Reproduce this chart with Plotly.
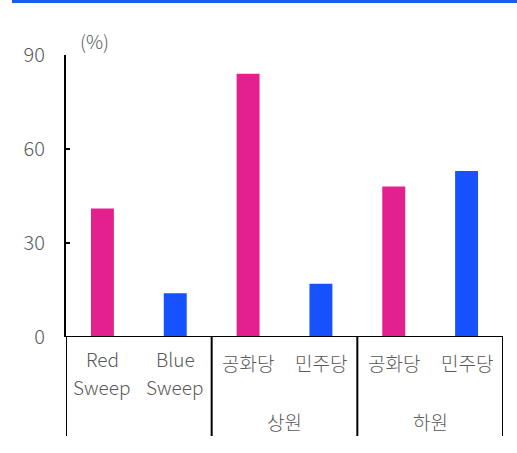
import plotly.graph_objects as go

categories = ["Red<br>Sweep", "Blue<br>Sweep", "공화당", "민주당", "공화당", "민주당"]
groups = ["", "상원", "하원"]
values = [41, 14, 84, 17, 48, 53]
colors = ["#E3208D", "#1652FF", "#E3208D", "#1652FF", "#E3208D", "#1652FF"]
y_ticks = [0, 30, 60, 90]

FONT = "Noto Sans CJK KR Light, Noto Sans CJK KR DemiLight, Noto Sans CJK KR"
GRAY = "#595959"

L, R, T, B = 66, 14, 55, 116
W, H = 517, 453
pw = W - L - R
ph = H - T - B


def py(pix):
    return (H - B - pix) / ph


def tfont(size=17):
    return dict(size=size, color=GRAY, family=FONT, weight=300)


xs = list(range(len(categories)))
fig = go.Figure(go.Bar(x=xs, y=values, marker=dict(color=colors, line=dict(width=0)),
                       width=0.315, hoverinfo="skip"))

fig.update_layout(
    width=W, height=H, margin=dict(l=L, r=R, t=T, b=B),
    plot_bgcolor="white", paper_bgcolor="white", showlegend=False,
    font=tfont(),
)
fig.update_xaxes(range=[-0.5, len(categories) - 0.5], showticklabels=False, showgrid=False,
                 zeroline=False, showline=False, ticks="")
fig.update_yaxes(range=[0, 90], tickvals=y_ticks, showgrid=False, zeroline=False,
                 showline=True, linecolor="black", linewidth=2, ticks="inside", ticklen=4,
                 tickwidth=2, tickcolor="black", tickfont=tfont(20),
                 ticklabelstandoff=15)

# x axis line at zero
fig.add_shape(type="line", xref="x", yref="y", x0=-0.5, x1=len(categories) - 0.5, y0=0, y1=0,
              line=dict(color="black", width=2))

# category labels (each line placed separately)
for i, c in enumerate(categories):
    lines = c.split("<br>")
    if len(lines) == 2:
        ys = [358, 386]
    else:
        ys = [362]
    for txt, yp in zip(lines, ys):
        fig.add_annotation(x=i, xref="x", y=py(yp), yref="paper", text=txt,
                           showarrow=False, yanchor="middle", xanchor="center",
                           font=tfont(19))

# group labels
for g, name in enumerate(groups):
    if name:
        fig.add_annotation(x=2 * g + 0.5, xref="x", y=py(421), yref="paper", text=name,
                           showarrow=False, yanchor="middle", xanchor="center",
                           font=tfont(19))

# separators
for xv in [-0.5, 1.5, 3.5, 5.5]:
    fig.add_shape(type="line", xref="x", yref="paper", x0=xv, x1=xv, y0=0, y1=py(436),
                  line=dict(color="black", width=2))

# unit label
fig.add_annotation(x=(94 - L) / pw, xref="paper", y=py(40), yref="paper", text="(%)",
                   showarrow=False, xanchor="center", yanchor="middle", font=tfont(19))

# top blue rule
fig.add_shape(type="rect", xref="paper", yref="paper", x0=(12 - L) / pw, x1=(W - L) / pw,
              y0=py(3), y1=py(0), line=dict(width=0), fillcolor="#1A5AF5")

fig.write_html("out.html")
